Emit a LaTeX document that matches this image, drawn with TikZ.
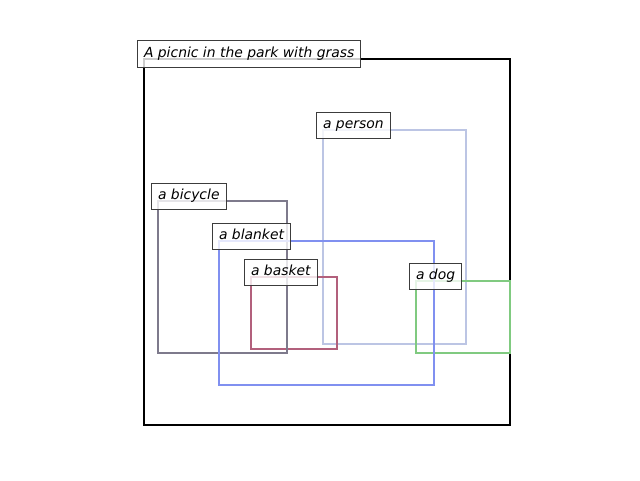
\documentclass[tikz,border=0pt]{standalone}
\usepackage{fontspec}
\setmainfont{DejaVu Sans}
\definecolor{cperson}{RGB}{188,197,228}
\definecolor{cbicycle}{RGB}{126,122,140}
\definecolor{cblanket}{RGB}{128,144,240}
\definecolor{cbasket}{RGB}{178,96,124}
\definecolor{cdog}{RGB}{128,202,128}
\definecolor{clabel}{RGB}{60,60,60}
\begin{document}
\begin{tikzpicture}[x=1pt,y=-1pt,
  objbox/.style={line width=2.4pt},
  tag/.style={draw=clabel, line width=1pt, fill=white, fill opacity=0.8, text opacity=1,
    anchor=south west, inner xsep=6.5pt, inner ysep=6.5pt,
    text height=10.3pt, text depth=3.2pt,
    font=\fontsize{13.9}{16}\selectfont\itshape}]
\useasboundingbox (0,0) rectangle (640,480);
\fill[white] (0,0) rectangle (640,480);
% outer image frame
\draw[line width=2.2pt, black] (144,59) rectangle (510,425);
% object boxes
\draw[objbox, cperson] (323,130) rectangle (466,344);
\draw[objbox, cbasket] (251,277) rectangle (337,349);
\draw[objbox, cbicycle] (158,201) rectangle (287,353);
\draw[objbox, cdog] (416,281) rectangle (510,353);
\draw[objbox, cblanket] (219,241) rectangle (434,385);
% labels
\node[tag] (title) at (137,67.5) {A picnic in the park with grass};
\node[tag] (person) at (316,139) {a person};
\node[tag] (bicycle) at (151,210) {a bicycle};
\node[tag] (blanket) at (212,250) {a blanket};
\node[tag] (basket) at (244,286) {a basket};
\node[tag] (dog) at (409,290) {a dog};
\end{tikzpicture}
\end{document}
